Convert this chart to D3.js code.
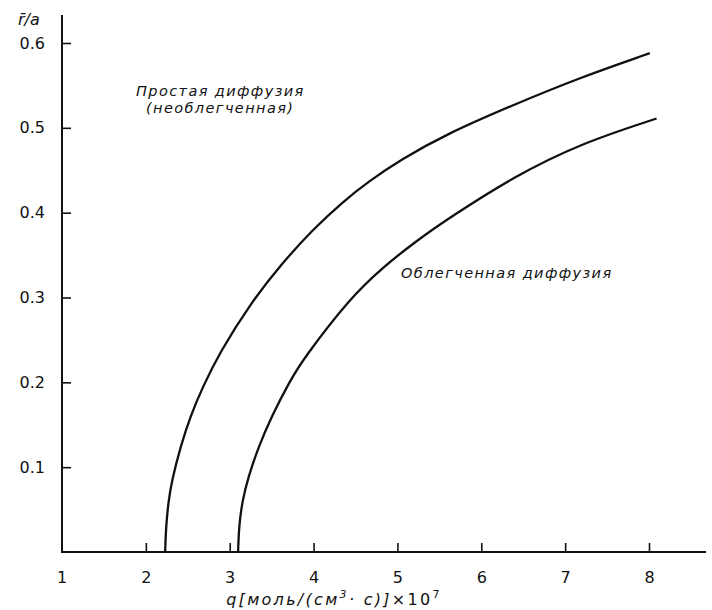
<!DOCTYPE html>
<html lang="ru">
<head>
<meta charset="utf-8" />
<title>r/a vs q</title>
<script src="https://d3js.org/d3.v7.min.js"></script>
<style>
  body, html { margin: 0; padding: 0; background: #fff; overflow: hidden; }
  .axis text { font-family: "DejaVu Sans", sans-serif; font-size: 16px; fill: #111; }
  .axis line { stroke: #111; stroke-width: 1.6px; }
  .note { font-family: "DejaVu Sans", sans-serif; font-style: oblique; font-size: 14.5px; fill: #111; letter-spacing: 1.4px; }
</style>
</head>
<body>
<div id="chart"></div>
<script>
  // values
  const xTicks = [2, 3, 4, 5, 6, 7, 8];
  const xLabels = ["1", "2", "3", "4", "5", "6", "7", "8"];
  const yTicks = [0.1, 0.2, 0.3, 0.4, 0.5, 0.6];

  // простая диффузия (необлегченная)
  const simpleQ = [2.23, 2.24, 2.27, 2.31, 2.41, 2.53, 2.68, 2.88, 3.24, 3.62, 4.0, 4.35, 4.66, 5.03, 5.59, 6.38, 7.17, 8.01];
  const simpleR = [0.0, 0.03, 0.06, 0.084, 0.123, 0.160, 0.195, 0.235, 0.292, 0.340, 0.381, 0.413, 0.437, 0.462, 0.493, 0.527, 0.559, 0.588];

  // облегченная диффузия
  const facQ = [3.10, 3.11, 3.15, 3.22, 3.34, 3.50, 3.72, 3.88, 4.43, 4.83, 5.23, 5.62, 6.38, 7.17, 8.09];
  const facR = [0.0, 0.03, 0.06, 0.088, 0.123, 0.160, 0.202, 0.228, 0.299, 0.336, 0.367, 0.394, 0.442, 0.481, 0.511];

  const W = 712, H = 610;
  const x0 = 62, y0 = 552;

  const svg = d3.select("#chart").append("svg")
    .attr("width", W)
    .attr("height", H);

  const x = d3.scaleLinear().domain([1, 8]).range([x0, 649]);
  const y = d3.scaleLinear().domain([0, 0.6]).range([y0, 43]);

  // axes lines
  svg.append("line")
    .attr("x1", x0).attr("x2", x0)
    .attr("y1", 15).attr("y2", y0 + 1)
    .attr("stroke", "#111").attr("stroke-width", 2);
  svg.append("line")
    .attr("x1", x0).attr("x2", 706)
    .attr("y1", y0).attr("y2", y0)
    .attr("stroke", "#111").attr("stroke-width", 2);

  const xAxis = svg.append("g")
    .attr("class", "axis")
    .attr("transform", "translate(0," + y0 + ")")
    .call(d3.axisBottom(x).tickValues(xTicks).tickSize(-9).tickPadding(20).tickFormat(d3.format("d")));
  xAxis.select(".domain").remove();
  // label "1" sits under the origin without a tick
  xAxis.append("text")
    .attr("x", x(1))
    .attr("y", 20)
    .attr("dy", "0.71em")
    .attr("text-anchor", "middle")
    .text(xLabels[0]);

  const yAxis = svg.append("g")
    .attr("class", "axis")
    .attr("transform", "translate(" + x0 + ",0)")
    .call(d3.axisLeft(y).tickValues(yTicks).tickSize(-9).tickPadding(17).tickFormat(d3.format(".1f")));
  yAxis.select(".domain").remove();

  // curves (smoothed through the read points)
  const line = d3.line()
    .x(d => x(d[0]))
    .y(d => y(d[1]))
    .curve(d3.curveBasis);

  svg.append("path")
    .datum(d3.zip(simpleQ, simpleR))
    .attr("d", line)
    .attr("fill", "none")
    .attr("stroke", "#111")
    .attr("stroke-width", 2.3);

  svg.append("path")
    .datum(d3.zip(facQ, facR))
    .attr("d", line)
    .attr("fill", "none")
    .attr("stroke", "#111")
    .attr("stroke-width", 2.3);

  // annotations
  svg.append("text").attr("class", "note").attr("x", 136).attr("y", 96).text("Простая диффузия");
  svg.append("text").attr("class", "note").attr("x", 146).attr("y", 113).text("(необлегченная)");
  svg.append("text").attr("class", "note").attr("x", 401).attr("y", 278).text("Облегченная диффузия");

  // y label
  svg.append("text")
    .attr("x", 18).attr("y", 25)
    .style("font-family", "DejaVu Sans, sans-serif")
    .style("font-size", "16px")
    .style("font-style", "oblique")
    .attr("fill", "#111")
    .text("r\u0304/a");

  // x label
  const xl = svg.append("text")
    .attr("x", 334).attr("y", 605)
    .attr("text-anchor", "middle")
    .style("font-family", "DejaVu Sans, sans-serif")
    .style("font-size", "16px")
    .style("letter-spacing", "2.3px")
    .attr("fill", "#111");
  xl.append("tspan").style("font-style", "oblique").text("q[моль/(см");
  xl.append("tspan").attr("dy", -7).style("font-size", "11px").style("font-style", "oblique").text("3");
  xl.append("tspan").attr("dy", 7).style("font-style", "oblique").text("· с)]");
  xl.append("tspan").text("×10");
  xl.append("tspan").attr("dy", -7).style("font-size", "11px").text("7");
</script>
</body>
</html>
